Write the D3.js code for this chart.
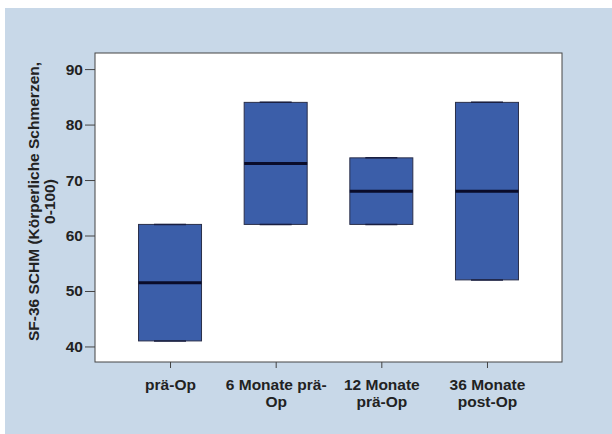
<!DOCTYPE html>
<html>
<head>
<meta charset="utf-8">
<script src="https://cdn.jsdelivr.net/npm/d3@7"></script>
<style>
  html, body { margin: 0; padding: 0; background: #ffffff; }
  svg { display: block; }
  text { font-family: "Liberation Sans", Arial, sans-serif; font-weight: bold; fill: #222; }
</style>
</head>
<body>
<svg id="chart" width="612" height="434"></svg>
<script>
// Time points (each label split into its display lines)
const categories = ["prä-Op", "6 Monate prä-Op", "12 Monate prä-Op", "36 Monate post-Op"];
const categoryLines = [["prä-Op"], ["6 Monate prä-", "Op"], ["12 Monate", "prä-Op"], ["36 Monate", "post-Op"]];
// Box statistics per time point (whiskers coincide with the box edges)
const minValues    = [41, 62, 62, 52];
const q1Values     = [41, 62, 62, 52];
const medianValues = [51.5, 73, 68, 68];
const q3Values     = [62, 84, 74, 84];
const maxValues    = [62, 84, 74, 84];
const yTicks = [40, 50, 60, 70, 80, 90];
const yLabelLines = ["SF-36 SCHM (Körperliche Schmerzen,", "0-100)"];

const svg = d3.select("#chart");
const W = 612, H = 434;
const plot = { left: 95, top: 53, right: 562, bottom: 362 };

// Panel background
svg.append("rect").attr("x", 5).attr("y", 8).attr("width", W - 5).attr("height", H - 8)
  .attr("fill", "#c8d8e8");

// Plot area
svg.append("rect").attr("x", plot.left).attr("y", plot.top)
  .attr("width", plot.right - plot.left).attr("height", plot.bottom - plot.top)
  .attr("fill", "#ffffff").attr("stroke", "#444").attr("stroke-width", 1);

const x = d3.scalePoint().domain(categories).range([plot.left, plot.right]).padding(0.71);
const y = d3.scaleLinear().domain([37.2, 92.9]).range([plot.bottom, plot.top]);

// Y axis
const yAxis = svg.append("g").attr("transform", `translate(${plot.left},0)`)
  .call(d3.axisLeft(y).tickValues(yTicks).tickSize(10).tickPadding(2));
yAxis.select(".domain").remove();
yAxis.selectAll(".tick line").attr("stroke", "#444");
yAxis.selectAll(".tick text").attr("font-size", 15.5).attr("font-family", "Liberation Sans, Arial, sans-serif")
  .attr("font-weight", "bold").attr("fill", "#222");

// X axis
const xAxis = svg.append("g").attr("transform", `translate(0,${plot.bottom})`)
  .call(d3.axisBottom(x).tickSize(6).tickFormat(""));
xAxis.select(".domain").remove();
xAxis.selectAll(".tick line").attr("stroke", "#444");
xAxis.selectAll(".tick").each(function(d, i) {
  const t = d3.select(this).append("text").attr("text-anchor", "middle")
    .attr("font-size", 15.5).attr("y", 28);
  categoryLines[i].forEach((line, k) => {
    t.append("tspan").attr("x", 0).attr("dy", k === 0 ? 0 : 17).text(line);
  });
});

// Boxes
const boxW = 63, capW = 32;
const data = categories.map((c, i) => ({
  c, min: minValues[i], q1: q1Values[i], med: medianValues[i], q3: q3Values[i], max: maxValues[i]
}));
const g = svg.append("g");
data.forEach(d => {
  const cx = x(d.c);
  g.append("rect").attr("x", cx - boxW / 2).attr("y", y(d.q3))
    .attr("width", boxW).attr("height", y(d.q1) - y(d.q3))
    .attr("fill", "#3b5ea9").attr("stroke", "#2a2f4a").attr("stroke-width", 1);
  g.append("line").attr("x1", cx - boxW / 2).attr("x2", cx + boxW / 2)
    .attr("y1", y(d.med)).attr("y2", y(d.med))
    .attr("stroke", "#0a0c2a").attr("stroke-width", 3);
  [d.min, d.max].forEach(v => {
    g.append("line").attr("x1", cx - capW / 2).attr("x2", cx + capW / 2)
      .attr("y1", y(v)).attr("y2", y(v))
      .attr("stroke", "#1a1f40").attr("stroke-width", 1.5);
  });
});

// Y axis title
const yt = svg.append("text").attr("text-anchor", "middle").attr("font-size", 15.5)
  .attr("transform", `translate(39,${(plot.top + plot.bottom) / 2 - 6}) rotate(-90)`);
yLabelLines.forEach((line, k) => {
  yt.append("tspan").attr("x", 0).attr("dy", k === 0 ? 0 : 16).text(line);
});
</script>
</body>
</html>
